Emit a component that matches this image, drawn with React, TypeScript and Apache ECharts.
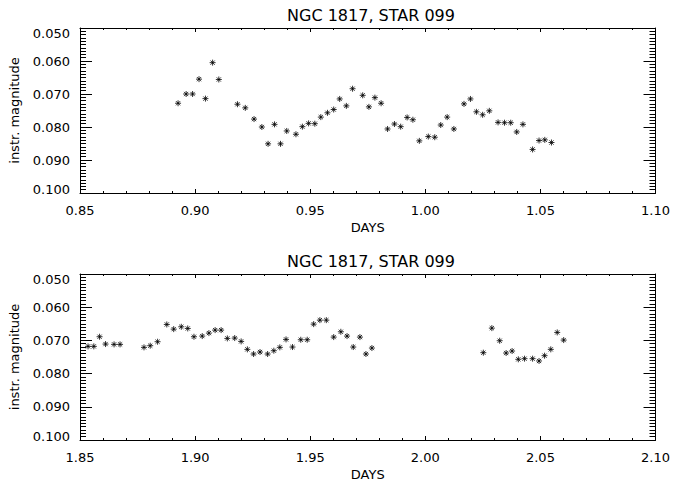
import React, { useEffect, useRef } from "react";
import * as echarts from "echarts";

const titleText = "NGC 1817, STAR 099";
const xName = "DAYS";
const yName = "instr. magnitude";

const days1 = [0.8926,0.8961,0.8989,0.9017,0.9045,0.9076,0.9103,0.9184,0.9218,0.9256,0.9290,0.9317,0.9345,0.9371,0.9398,0.9438,0.9466,0.9493,0.9520,0.9546,0.9575,0.9602,0.9628,0.9657,0.9684,0.9728,0.9755,0.9781,0.9808,0.9836,0.9866,0.9893,0.9921,0.9946,0.9974,1.0013,1.0041,1.0067,1.0095,1.0124,1.0168,1.0196,1.0222,1.0249,1.0278,1.0316,1.0344,1.0371,1.0397,1.0424,1.0466,1.0494,1.0519,1.0548];
const mags1 = [0.0728,0.0700,0.0700,0.0655,0.0714,0.0605,0.0656,0.0731,0.0742,0.0776,0.0800,0.0851,0.0792,0.0851,0.0812,0.0822,0.0799,0.0789,0.0790,0.0770,0.0757,0.0747,0.0715,0.0736,0.0684,0.0704,0.0739,0.0711,0.0728,0.0806,0.0791,0.0799,0.0771,0.0778,0.0842,0.0829,0.0831,0.0794,0.0770,0.0806,0.0730,0.0715,0.0754,0.0763,0.0751,0.0786,0.0787,0.0787,0.0815,0.0792,0.0868,0.0841,0.0839,0.0847];

const days2 = [1.8535,1.8560,1.8585,1.8611,1.8648,1.8674,1.8778,1.8805,1.8837,1.8877,1.8907,1.8940,1.8968,1.8995,1.9031,1.9060,1.9087,1.9113,1.9140,1.9172,1.9200,1.9227,1.9254,1.9282,1.9315,1.9342,1.9368,1.9395,1.9423,1.9459,1.9487,1.9515,1.9542,1.9570,1.9602,1.9633,1.9660,1.9687,1.9716,1.9742,1.9768,2.0252,2.0289,2.0323,2.0351,2.0377,2.0404,2.0431,2.0466,2.0494,2.0518,2.0545,2.0573,2.0601];
const mags2 = [0.0718,0.0718,0.0689,0.0711,0.0712,0.0712,0.0721,0.0716,0.0704,0.0652,0.0666,0.0659,0.0664,0.0689,0.0687,0.0678,0.0669,0.0669,0.0694,0.0693,0.0703,0.0727,0.0741,0.0735,0.0741,0.0731,0.0721,0.0697,0.0720,0.0698,0.0698,0.0651,0.0639,0.0639,0.0690,0.0674,0.0687,0.0720,0.0690,0.0741,0.0723,0.0737,0.0663,0.0701,0.0738,0.0732,0.0757,0.0755,0.0755,0.0762,0.0746,0.0727,0.0676,0.0699];

const xRanges = [
  [0.85, 1.1],
  [1.85, 2.1],
];
const yRange = [0.05, 0.1];

const FONT = "DejaVu Sans";
const ASTERISK = "path://M5 0L5 10M0 5L10 5M1.5 1.5L8.5 8.5M1.5 8.5L8.5 1.5";

export default function App() {
  const ref = useRef<HTMLDivElement>(null);
  useEffect(() => {
    if (!ref.current) return;
    const chart = echarts.init(ref.current, null, { renderer: "svg" });
    const grids = [
      { left: 77, right: 17, top: 28, height: 165 },
      { left: 77, right: 17, top: 274, height: 166 },
    ];
    const labelStyle = { color: "#000", fontFamily: FONT, fontSize: 13 };
    const xAxes: any[] = [];
    const yAxes: any[] = [];
    grids.forEach((_, i) => {
      const [xmin, xmax] = xRanges[i];
      const common = {
        gridIndex: i,
        type: "value",
        min: xmin,
        max: xmax,
        interval: 0.05,
        splitLine: { show: false },
        axisLine: { show: true, onZero: false, lineStyle: { color: "#000", width: 1 } },
        axisTick: { show: true, inside: true, length: 4, lineStyle: { color: "#000" } },
        minorTick: { show: true, splitNumber: 5, length: 2, lineStyle: { color: "#000" } },
      };
      xAxes.push({
        ...common,
        position: "bottom",
        name: xName,
        nameLocation: "middle",
        nameGap: 28,
        nameTextStyle: { ...labelStyle },
        axisLabel: {
          ...labelStyle,
          margin: 11,
          formatter: (v: number) => v.toFixed(2),
        },
      });
      xAxes.push({ ...common, position: "top", axisLabel: { show: false } });
      const ycommon = {
        gridIndex: i,
        type: "value",
        min: yRange[0],
        max: yRange[1],
        interval: 0.01,
        inverse: true,
        splitLine: { show: false },
        axisLine: { show: true, onZero: false, lineStyle: { color: "#000", width: 1 } },
        axisTick: { show: true, inside: true, length: 12, lineStyle: { color: "#000" } },
        minorTick: { show: true, splitNumber: 10, length: 6, lineStyle: { color: "#000" } },
      };
      yAxes.push({
        ...ycommon,
        position: "left",
        name: yName,
        nameLocation: "middle",
        nameGap: 59,
        nameTextStyle: { ...labelStyle },
        axisLabel: {
          ...labelStyle,
          margin: 10,
          formatter: (v: number) => {
            const s = v.toFixed(3);
            if (Math.abs(v - yRange[0]) < 1e-6) return "{lo|" + s + "}";
            if (Math.abs(v - yRange[1]) < 1e-6) return "{hi|" + s + "}";
            return s;
          },
          rich: {
            lo: { ...labelStyle, padding: [10, 0, 0, 0] },
            hi: { ...labelStyle, padding: [0, 0, 7, 0] },
          },
        },
      });
      yAxes.push({ ...ycommon, position: "right", axisLabel: { show: false } });
    });

    const dataSets = [
      days1.map((d, k) => [d, mags1[k]]),
      days2.map((d, k) => [d, mags2[k]]),
    ];

    const titleStyle = { color: "#000", fontFamily: FONT, fontSize: 16, fontWeight: "normal" };
    chart.setOption({
      animation: false,
      backgroundColor: "#fff",
      title: [
        { text: titleText, left: 366, textAlign: "center", top: 2, textStyle: titleStyle },
        { text: titleText, left: 366, textAlign: "center", top: 248, textStyle: titleStyle },
      ],
      grid: grids,
      xAxis: xAxes,
      yAxis: yAxes,
      series: dataSets.map((data, i) => ({
        type: "scatter",
        xAxisIndex: i * 2,
        yAxisIndex: i * 2,
        data,
        symbol: ASTERISK,
        symbolSize: 6,
        itemStyle: { color: "#000", borderColor: "#000", borderWidth: 1 },
      })),
    });
    return () => chart.dispose();
  }, []);
  return (
    <div
      ref={ref}
      style={{ position: "fixed", left: 0, top: 0, width: 673, height: 482, background: "#fff" }}
    />
  );
}
